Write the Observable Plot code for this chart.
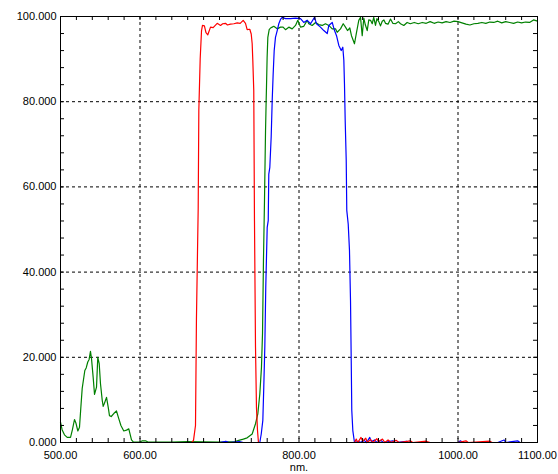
<!DOCTYPE html>
<html>
<head>
<meta charset="utf-8">
<script src="https://cdn.jsdelivr.net/npm/d3@7"></script>
<script src="https://cdn.jsdelivr.net/npm/@observablehq/plot@0.6"></script>
<style>
  html, body { margin: 0; padding: 0; background: #fff; }
  #chart svg { display: block; }
</style>
</head>
<body>
<div id="chart"></div>
<script>
// Transmission (%) vs wavelength (nm) — [nm, value]
const redSeries = [
  [500,0],[560,0],[620,0],[665,0],[667.3,0.5],[669.8,4],[671,29],[673.2,55],[674,78],[675.7,90],
  [677.4,96.7],[678.6,97.9],[681,97.8],[683,96.2],[685.3,95.7],[688.7,97.5],[692,97.4],[697.1,98.4],
  [701.3,97.9],[704,98.3],[707.5,98.4],[710,98.0],[713.8,98.2],[718,98.3],[722.3,98.5],[726,98.4],
  [729.8,99.1],[732.7,98.4],[734.8,96.9],[738.1,97],[739.9,95.9],[741.1,93.6],[741.9,89.7],[743.1,82.6],
  [744,52],[745.3,22.3],[746.5,8.2],[747.8,2.8],[749,0],[800,0],[870,0],[872,0.8],[874,0],[878,1.2],
  [880,0.3],[884,1.0],[886,0],[890,0.7],[893,0],[898,0.9],[900,0.2],[905,0.8],[908,0],[912,0.6],[916,0],
  [922,0.5],[926,0],[940,0.4],[943,0],[960,0.3],[965,0],[1000,0],[1010,0.4],[1013,0],[1040,0.3],[1043,0],[1100,0]
];
const greenSeries = [
  [500,4.8],[502,3],[505,1.8],[508.4,1.2],[512.6,1.2],[515,3],[517.6,5.4],[519.5,4.5],[521.8,2.7],[523.9,3.6],
  [525.5,8],[527.3,12.7],[530.6,16.9],[532.3,17.5],[534.3,18.9],[536,19.5],[537.7,21.4],[539,19.7],[541.1,15.3],
  [542.8,11.3],[545.3,13],[546.9,20],[548.7,18.5],[550.3,13.8],[552.5,9.9],[553.7,8.5],[555.3,9.2],[557.9,10.6],
  [560,8.3],[561.6,6.3],[563.8,6.1],[567,6.8],[570.4,7.4],[573.3,5.6],[576,4],[579.6,2.7],[583,2.9],[585.9,3.2],
  [589.3,0.6],[591.8,0.1],[600,0.1],[603,0.4],[607,0.4],[610,0.1],[640,0.1],[660,0.2],[700,0.1],[720,0.2],
  [722.3,0.4],[724.3,0.5],[730,0.8],[734.8,1.1],[741.1,2],[745.3,4.4],[748.2,6.7],[750.7,11.4],[752.8,17.7],
  [754.1,25.6],[755.3,42.7],[756.6,56.8],[757.9,73.2],[758.7,80.3],[759.1,83.4],[759.9,90.4],[760.8,95.1],
  [762.5,96.9],[764.2,97.3],[766.3,97.5],[768.3,97.7],[772.6,97.1],[776.7,97.5],[780,97.5],[783,96.9],
  [787.2,97.5],[791.4,97.1],[795.6,97.9],[798.5,99.1],[801.9,97.5],[806,97.7],[810.3,99.1],[812.3,98.3],
  [816.6,97.9],[820.8,98.6],[824.9,98.1],[829.2,97.9],[833.3,98.3],[837.5,97.9],[841.8,97.1],[845.9,97.1],
  [848,96.3],[852.2,97.1],[855.6,98.3],[858.5,97.5],[861,96.7],[863.9,97.3],[866,95.5],[869.8,93.6],
  [872.3,96.2],[875.2,99.1],[877.4,99.8],[879.5,95.5],[881.5,99.6],[883.5,98],[885.8,96.7],[887.8,99.2],
  [890,99.1],[892.1,98.3],[894,99.8],[896.2,97.9],[898,99.5],[900.4,98.8],[902.5,97.8],[904.7,98.9],
  [906.8,99.2],[908.8,98.4],[912,98.2],[915.1,99.4],[918,98.4],[921.4,98.3],[925,98.8],[927.7,98.3],
  [931.8,97.9],[936,98.6],[940,98.3],[945,98.6],[950,98.3],[955,98.6],[960,98.4],[965,98.8],[970,98.4],
  [975,98.7],[980,98.5],[985,98.8],[990,98.6],[995,98.9],[1000,98.8],[1005,98.5],[1010,98.2],[1015,98.0],
  [1020,98.3],[1025,98.4],[1030,98.6],[1035,98.4],[1040,98.7],[1045,98.6],[1050,98.9],[1055,98.5],
  [1060,98.8],[1065,98.6],[1070,98.4],[1075,98.7],[1080,98.5],[1085,98.7],[1090,98.6],[1095,99.2],[1100,98.9]
];
const blueSeries = [
  [500,0],[560,0],[600,0],[640,0],[700,0],[708,0.3],[712,0],[725,0.2],[730,0],[750.7,0],[752.5,2],[754.5,5.2],
  [755.7,13],[757,22.4],[758.2,36.5],[760,50.5],[761.3,52.1],[762,63],[763.3,64.6],[765,71.7],[766.3,80.3],
  [767.5,86.5],[768.8,92],[770.4,95.1],[772.6,96.7],[774.6,98.3],[776.7,99.3],[778.9,99.8],[783,99.5],
  [789.3,99.5],[795.6,99.6],[801.9,99.5],[806,98.6],[810.3,99.1],[814.5,98.3],[819.5,99.8],[822,98.3],
  [827,97.5],[831.2,96.7],[835.5,96],[837.5,97.9],[841.8,98.6],[844.7,96.7],[847.2,95.5],[850.1,93.2],
  [853.1,92],[855.1,92.8],[856.4,89.7],[857.2,84.2],[858.1,75.6],[859.4,66.2],[860.1,54.5],[861.9,51.3],
  [863.5,45.1],[864.8,33.3],[865.7,19.2],[866.4,7.5],[867.7,2.8],[869.8,0],[875,0.3],[877,0],[882,0.5],
  [885,0],[889,1.2],[891,0.2],[895,0.6],[898,0],[903,0.5],[906,0],[918,0.4],[921,0],[935,0.3],[938,0],
  [1000,0],[1003,0.4],[1006,0],[1050,0],[1058,0.6],[1060,0],[1075,0.4],[1078,0],[1100,0]
];

const xLabels = [500, 600, 800, 1000, 1100];
const yLabels = [0, 20, 40, 60, 80, 100];
const xMinor = d3.range(500, 1100.1, 20);
const yMinor = d3.range(0, 100.1, 4);
const xGrid = [600, 800, 1000];
const yGrid = [20, 40, 60, 80];
const xTitle = "nm.";

const W = 558, H = 474, mL = 60, mR = 21, mT = 16, mB = 32;
const plotH = H - mT - mB, plotW = W - mL - mR, tk = 4;

const chart = Plot.plot({
  width: W, height: H,
  marginLeft: mL, marginRight: mR, marginTop: mT, marginBottom: mB,
  x: {domain: [500, 1100]},
  y: {domain: [0, 100]},
  style: {fontFamily: "'Liberation Sans', Arial, sans-serif", fontSize: "11px", color: "#000", background: "#fff"},
  marks: [
    Plot.ruleX(xGrid, {x: d => d, stroke: "#000", strokeDasharray: "3,3"}),
    Plot.ruleY(yGrid, {y: d => d, stroke: "#000", strokeDasharray: "3,3"}),
    Plot.line(greenSeries, {x: d => d[0], y: d => d[1], stroke: "#008000", strokeWidth: 1.2}),
    Plot.line(blueSeries, {x: d => d[0], y: d => d[1], stroke: "#0000ff", strokeWidth: 1.2}),
    Plot.line(redSeries, {x: d => d[0], y: d => d[1], stroke: "#ff0000", strokeWidth: 1.2}),
    // inward minor ticks on all four sides
    Plot.ruleX(xMinor, {x: d => d, stroke: "#000", insetTop: plotH - tk}),
    Plot.ruleX(xMinor, {x: d => d, stroke: "#000", insetBottom: plotH - tk}),
    Plot.ruleY(yMinor, {y: d => d, stroke: "#000", insetRight: plotW - tk}),
    Plot.ruleY(yMinor, {y: d => d, stroke: "#000", insetLeft: plotW - tk}),
    Plot.frame({stroke: "#000"}),
    Plot.axisX({ticks: xLabels, tickSize: 0, tickPadding: 9, tickFormat: d => d.toFixed(2), label: null}),
    Plot.axisY({ticks: yLabels, tickSize: 0, tickPadding: 4, tickFormat: d => d.toFixed(3), label: null}),
    Plot.text([xTitle], {text: d => d, frameAnchor: "bottom", dy: 28})
  ]
});
document.getElementById("chart").appendChild(chart);
</script>
</body>
</html>
